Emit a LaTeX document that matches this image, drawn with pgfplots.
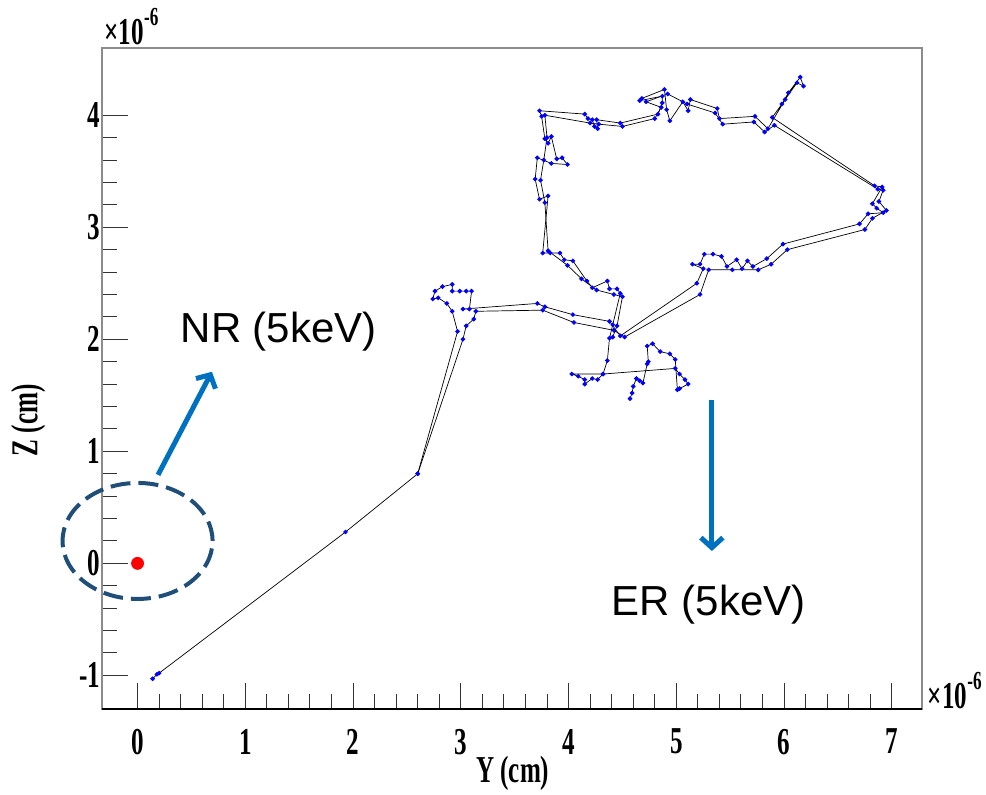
\documentclass[border=0pt]{standalone}
\usepackage{pgfplots}
\pgfplotsset{compat=1.18}
\usepackage{pgfplotstable}
\usepackage{fontspec}
\setmainfont{Liberation Serif}
\newfontfamily\rootfont[FakeStretch=0.66]{Liberation Serif}
\newfontfamily\arialfont{Liberation Sans}
\usetikzlibrary{arrows.meta}
\definecolor{arrowblue}{RGB}{0,112,192}
\definecolor{ellblue}{RGB}{31,78,121}
\definecolor{framegray}{RGB}{140,140,140}

\pgfplotstableread{
x y
0.14 -1.03
0.18 -0.99
0.20 -0.98
1.93 0.28
2.60 0.80
2.97 2.07
2.92 2.25
2.87 2.32
2.79 2.37
2.74 2.36
2.76 2.43
2.83 2.47
2.92 2.49
2.92 2.43
2.99 2.43
3.05 2.43
3.10 2.43
3.08 2.27
3.02 2.27
3.71 2.32
3.78 2.29
4.04 2.22
4.38 2.16
4.48 2.03
5.19 2.50
5.25 2.63
5.15 2.67
5.22 2.67
5.26 2.76
5.34 2.76
5.42 2.74
5.47 2.65
5.56 2.71
5.61 2.63
5.66 2.70
5.71 2.65
5.84 2.72
5.99 2.85
6.70 3.03
6.78 3.12
6.92 3.13
6.86 3.17
6.82 3.21
6.91 3.36
6.84 3.37
5.89 3.98
5.98 4.10
6.04 4.20
6.15 4.34
6.18 4.26
6.12 4.29
6.01 4.14
5.85 3.88
5.73 3.99
5.40 3.97
5.38 4.06
5.13 4.14
5.11 4.04
5.06 4.12
4.94 3.95
4.91 4.05
4.89 4.23
4.68 4.15
4.66 4.13
4.87 4.17
4.87 4.11
4.83 4.01
4.48 3.93
4.26 3.96
4.27 3.88
4.24 3.90
4.22 3.96
4.18 3.97
4.15 4.01
3.73 4.04
3.75 3.99
3.78 3.79
3.81 3.75
3.84 3.81
3.89 3.61
3.94 3.62
3.99 3.56
3.84 3.57
3.71 3.62
3.69 3.43
3.73 3.25
3.81 3.28
3.76 2.77
3.83 2.77
3.92 2.77
3.96 2.71
4.04 2.70
4.17 2.52
4.22 2.46
4.36 2.52
4.38 2.45
4.45 2.45
4.48 2.41
4.41 2.13
4.38 2.01
4.36 1.81
4.32 1.69
4.27 1.64
4.22 1.65
4.15 1.60
4.15 1.64
4.09 1.67
4.03 1.69
4.32 1.69
4.99 1.74
5.03 1.69
5.08 1.64
5.11 1.60
5.03 1.56
5.01 1.55
4.99 1.82
4.94 1.87
4.85 1.89
4.78 1.96
4.73 1.94
4.74 1.80
4.73 1.78
4.69 1.61
4.66 1.63
4.63 1.65
4.60 1.58
4.59 1.52
4.57 1.47
}\maintrack

\pgfplotstableread{
x y
2.60 0.80
3.02 2.00
3.05 2.12
3.12 2.18
3.14 2.25
3.76 2.26
4.05 2.15
4.42 2.08
4.52 2.02
5.22 2.40
5.30 2.62
5.52 2.62
5.76 2.62
5.88 2.67
6.03 2.80
6.75 2.98
6.82 3.08
6.95 3.15
6.88 3.23
6.92 3.33
6.87 3.34
5.91 3.91
5.82 3.85
5.72 3.94
5.43 3.92
5.36 4.02
5.10 4.10
4.92 4.19
4.72 4.12
4.86 4.07
4.80 3.97
4.50 3.90
4.28 3.92
4.20 3.93
3.78 4.00
3.80 3.80
3.77 3.60
3.74 3.42
3.78 3.22
3.81 2.79
3.99 2.66
4.12 2.54
4.26 2.44
4.42 2.40
4.50 2.38
4.45 2.12
4.41 2.02
}\secondtrack

\begin{document}
\begin{tikzpicture}
\useasboundingbox (-51pt,-42.5pt) rectangle (442pt,354.5pt);
\begin{axis}[
  at={(0pt,0pt)}, anchor=south west,
  scale only axis, width=410pt, height=330.5pt,
  xmin=-0.33, xmax=7.28, ymin=-1.30, ymax=4.60,
  xtick={0,1,2,3,4,5,6,7}, ytick={-1,0,1,2,3,4},
  xticklabels={0,1,2,3,4,5,6,7}, yticklabels={-1,0,1,2,3,4},
  minor x tick num=4, minor y tick num=4,
  tick align=inside,
  xtick pos=lower, ytick pos=left,
  major tick length=13pt, minor tick length=7.5pt,
  axis line style={framegray, line width=0.7pt},
  tick style={black!80, line width=0.5pt},
  ticklabel style={font=\rootfont\bfseries\fontsize{19}{19}\selectfont},
  xticklabel style={yshift=-6.5pt},
  yticklabel style={xshift=2.5pt},
  label style={font=\rootfont\bfseries\fontsize{19}{19}\selectfont},
  xlabel={Y (cm)}, ylabel={Z (cm)},
  xlabel style={at={(axis description cs:0.501,-0.097)}, anchor=center},
  ylabel style={at={(axis description cs:-0.090,0.437)}, anchor=center},
  clip=false,
]
\addplot[black, line width=0.35pt, mark=none] table {\maintrack};
\addplot[black, line width=0.35pt, mark=none] table {\secondtrack};
\addplot[only marks, mark=*, mark size=0.95pt, blue, mark options={draw=blue, fill=blue}] table {\maintrack};
\addplot[only marks, mark=*, mark size=0.95pt, blue, mark options={draw=blue, fill=blue}] table {\secondtrack};
\addplot[only marks, mark=*, mark size=3pt, red, mark options={draw=red, fill=red}] coordinates {(0,0)};

\draw[black, line width=0.9pt] (rel axis cs:0,0) -- (rel axis cs:1,0);

\node[font=\rootfont\bfseries\fontsize{19}{19}\selectfont] at (axis description cs:0.036,1.032) {×10\raisebox{0.5em}{\fontsize{13}{13}\selectfont -6}};
\node[font=\rootfont\bfseries\fontsize{19}{19}\selectfont] at (axis description cs:1.040,0.028) {×10\raisebox{0.5em}{\fontsize{13}{13}\selectfont -6}};

\draw[ellblue, line width=2pt, dash pattern=on 10pt off 4pt] (axis cs:0,0.20) ellipse [x radius=37.5pt, y radius=29pt];
\draw[arrowblue, line width=2.5pt, -{Straight Barb[length=5pt,width=11pt]}] (axis cs:0.19,0.79) -- (axis cs:0.69,1.71);
\draw[arrowblue, line width=2.5pt, -{Straight Barb[length=5pt,width=11pt]}] (axis cs:5.33,1.46) -- (axis cs:5.33,0.11);
\node[font=\arialfont\fontsize{21}{21}\selectfont] at (axis cs:1.31,2.07) {NR (5keV)};
\node[font=\arialfont\fontsize{21}{21}\selectfont] at (axis cs:5.30,-0.37) {ER (5keV)};
\end{axis}
\end{tikzpicture}
\end{document}
